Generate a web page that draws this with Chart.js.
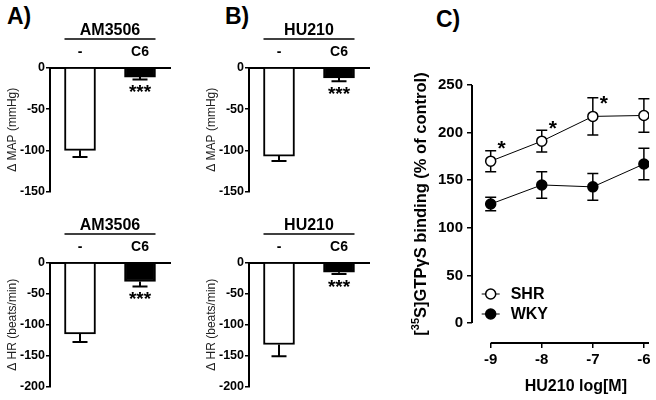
<!DOCTYPE html>
<html>
<head>
<meta charset="utf-8">
<script src="https://cdn.jsdelivr.net/npm/chart.js@4"></script>
<style>
body { margin: 0; background: #fff; width: 656px; height: 400px; overflow: hidden; position: relative; font-family: "Liberation Sans", Arial, sans-serif; }
.panel { position: absolute; }
.tag { position: absolute; font-weight: bold; font-size: 23px; line-height: 23px; color: #000; }
</style>
</head>
<body>
<div class="tag" style="left:7px;top:5px">A)</div>
<div class="tag" style="left:225px;top:5px">B)</div>
<div class="tag" style="left:436px;top:8px">C)</div>

<canvas class="panel" id="amMap" width="190" height="200" style="left:0;top:0"></canvas>
<canvas class="panel" id="amHr" width="190" height="200" style="left:0;top:195px"></canvas>
<canvas class="panel" id="huMap" width="190" height="200" style="left:199px;top:0"></canvas>
<canvas class="panel" id="huHr" width="190" height="200" style="left:199px;top:195px"></canvas>
<canvas class="panel" id="binding" width="256" height="400" style="left:400px;top:0"></canvas>

<script>
// 数据
const barGroups = ['-', 'C6']
const barSig = [false, true]

const amMap = [-100, -11]
const amMapErr = [8, 3]
const amHr = [-115, -30]
const amHrErr = [13, 8]
const huMap = [-107, -12]
const huMapErr = [6, 4]
const huHr = [-132, -15]
const huHrErr = [19, 3]

const mapTicks = [0, -50, -100, -150]
const hrTicks = [0, -50, -100, -150, -200]

const doses = [-9, -8, -7, -6]
const shr = [170, 191, 217, 218]
const shrErr = [11, 11.5, 19.5, 17.5]
const shrSig = [true, true, true, false]
const wky = [125, 145, 143, 167]
const wkyErr = [7, 14, 14, 16.5]
const bindTicks = [0, 50, 100, 150, 200, 250]

const FONT = '"Liberation Sans", Arial, sans-serif'
Chart.defaults.font.family = FONT
Chart.defaults.color = '#000'

// 误差线
const errorBars = {
    id: 'errorBars',
    beforeDatasetsDraw(chart) {
        const ctx = chart.ctx
        const ys = chart.scales.y
        chart.data.datasets.forEach((ds, di) => {
            if (!ds.errors) return
            const meta = chart.getDatasetMeta(di)
            meta.data.forEach((el, i) => {
                const v = ds.data[i]
                const val = typeof v === 'object' ? v.y : v
                const err = ds.errors[i]
                const cap = ds.capWidth / 2
                ctx.save()
                ctx.strokeStyle = '#000'
                ctx.lineWidth = ds.errWidth
                ctx.beginPath()
                let yEnds
                if (ds.oneSided) {
                    yEnds = [ys.getPixelForValue(val - err)]
                    ctx.moveTo(el.x, el.y)
                    ctx.lineTo(el.x, yEnds[0])
                } else {
                    yEnds = [ys.getPixelForValue(val - err), ys.getPixelForValue(val + err)]
                    ctx.moveTo(el.x, yEnds[0])
                    ctx.lineTo(el.x, yEnds[1])
                }
                yEnds.forEach(y => {
                    ctx.moveTo(el.x - cap, y)
                    ctx.lineTo(el.x + cap, y)
                })
                ctx.stroke()
                ctx.restore()
            })
        })
    }
}

// 柱状图装饰：组名、下划线、星号
const barDeco = {
    id: 'barDeco',
    afterDraw(chart, args, opts) {
        const ctx = chart.ctx
        const ys = chart.scales.y
        const top = chart.chartArea.top
        const meta = chart.getDatasetMeta(0)
        const b0 = meta.data[0], b1 = meta.data[1]
        const ds = chart.data.datasets[0]
        ctx.save()
        ctx.fillStyle = '#000'
        ctx.strokeStyle = '#000'
        ctx.font = 'bold 16px ' + FONT
        ctx.textAlign = 'center'
        ctx.textBaseline = 'middle'
        ctx.fillText(opts.group, (b0.x + b1.x) / 2, top - 37)
        ctx.lineWidth = 1.5
        ctx.beginPath()
        ctx.moveTo(b0.x - b0.width / 2, top - 29)
        ctx.lineTo(b1.x + b1.width / 2, top - 29)
        ctx.stroke()
        ctx.font = 'bold 19px ' + FONT
        ctx.textBaseline = 'top'
        ds.data.forEach((v, i) => {
            if (!barSig[i]) return
            const y = ys.getPixelForValue(v - ds.errors[i])
            ctx.fillText('***', meta.data[i].x, y + 4)
        })
        ctx.restore()
    }
}

function barPanel(id, group, values, errs, ticks, title) {
    new Chart(document.getElementById(id), {
        type: 'bar',
        data: {
            labels: barGroups,
            datasets: [{
                data: values,
                errors: errs,
                oneSided: true,
                capWidth: 15,
                errWidth: 2,
                backgroundColor: ['#fff', '#000'],
                borderColor: '#000',
                borderWidth: 2,
                barThickness: 31
            }]
        },
        options: {
            responsive: false,
            animation: false,
            devicePixelRatio: 1,
            layout: { padding: { top: 44, right: 20, bottom: 7, left: 0 } },
            plugins: {
                legend: { display: false },
                tooltip: { enabled: false },
                barDeco: { group: group }
            },
            scales: {
                x: {
                    position: 'top',
                    afterFit: s => { s.height = 24 },
                    grid: { display: false, drawTicks: false },
                    border: { color: '#000', width: 2 },
                    ticks: { font: { size: 14, weight: 'bold' }, color: '#000', padding: 7 }
                },
                y: {
                    min: ticks[ticks.length - 1],
                    max: 0,
                    afterBuildTicks: s => { s.ticks = ticks.map(v => ({ value: v })) },
                    afterFit: s => { s.width = 50 },
                    grid: { drawOnChartArea: false, tickLength: 4, color: '#000', lineWidth: 1.5 },
                    border: { color: '#000', width: 2 },
                    ticks: { font: { size: 12.5, weight: 'bold' }, color: '#000', padding: 1 },
                    title: { display: true, text: title, font: { size: 12 }, color: '#222', padding: { top: 5, bottom: 0 } }
                }
            }
        },
        plugins: [errorBars, barDeco]
    })
}

barPanel('amMap', 'AM3506', amMap, amMapErr, mapTicks, 'Δ MAP (mmHg)')
barPanel('amHr', 'AM3506', amHr, amHrErr, hrTicks, 'Δ HR (beats/min)')
barPanel('huMap', 'HU210', huMap, huMapErr, mapTicks, 'Δ MAP (mmHg)')
barPanel('huHr', 'HU210', huHr, huHrErr, hrTicks, 'Δ HR (beats/min)')

// 曲线图：坐标轴、标题、图例、星号
const bindDeco = {
    id: 'bindDeco',
    afterDraw(chart) {
        const ctx = chart.ctx
        const xs = chart.scales.x, ys = chart.scales.y
        const area = chart.chartArea
        ctx.save()
        ctx.strokeStyle = '#000'
        ctx.fillStyle = '#000'
        ctx.lineWidth = 2
        ctx.beginPath()
        ctx.moveTo(area.left, ys.getPixelForValue(bindTicks[0]))
        ctx.lineTo(area.left, ys.getPixelForValue(bindTicks[bindTicks.length - 1]))
        ctx.moveTo(xs.getPixelForValue(doses[0]), area.bottom)
        ctx.lineTo(area.right, area.bottom)
        ctx.stroke()

        // 星号
        ctx.font = 'bold 21px ' + FONT
        ctx.textAlign = 'center'
        ctx.textBaseline = 'middle'
        const shrMeta = chart.getDatasetMeta(0)
        shrMeta.data.forEach((p, i) => {
            if (shrSig[i]) ctx.fillText('*', p.x + 11, p.y - 12)
        })

        // x 轴标题
        ctx.font = 'bold 16px ' + FONT
        ctx.fillText('HU210 log[M]', (xs.getPixelForValue(doses[0]) + area.right) / 2 + 6, 387)

        // y 轴标题（带上标）
        const cy = (ys.getPixelForValue(bindTicks[0]) + ys.getPixelForValue(bindTicks[bindTicks.length - 1])) / 2
        ctx.translate(21, cy)
        ctx.rotate(-Math.PI / 2)
        const big = 'bold 16.5px ' + FONT, small = 'bold 11px ' + FONT
        const parts = [['[', big, 0], ['35', small, -5], ['S]GTPγS binding (% of control)', big, 0]]
        let total = 0
        parts.forEach(pt => { ctx.font = pt[1]; total += ctx.measureText(pt[0]).width })
        let x = -total / 2
        ctx.textAlign = 'left'
        ctx.textBaseline = 'middle'
        parts.forEach(pt => {
            ctx.font = pt[1]
            ctx.fillText(pt[0], x, pt[2])
            x += ctx.measureText(pt[0]).width
        })
        ctx.restore()

        // 图例
        ctx.save()
        const lx = xs.getPixelForValue(doses[0])
        chart.data.datasets.forEach((ds, i) => {
            const ly = area.bottom - 49 + i * 20
            ctx.strokeStyle = '#000'
            ctx.lineWidth = 1
            ctx.beginPath()
            ctx.moveTo(lx - 9, ly)
            ctx.lineTo(lx + 9, ly)
            ctx.stroke()
            ctx.beginPath()
            ctx.arc(lx, ly, 5, 0, Math.PI * 2)
            ctx.fillStyle = ds.pointBackgroundColor
            ctx.fill()
            ctx.lineWidth = 1.5
            ctx.stroke()
            ctx.fillStyle = '#000'
            ctx.font = 'bold 16px ' + FONT
            ctx.textAlign = 'left'
            ctx.textBaseline = 'middle'
            ctx.fillText(ds.label, lx + 20, ly + 1)
        })
        ctx.restore()
    }
}

new Chart(document.getElementById('binding'), {
    type: 'line',
    data: {
        datasets: [{
            label: 'SHR',
            data: doses.map((d, i) => ({ x: d, y: shr[i] })),
            errors: shrErr,
            capWidth: 11,
            errWidth: 1.5,
            borderColor: '#000',
            borderWidth: 1,
            pointRadius: 5,
            pointBackgroundColor: '#fff',
            pointBorderColor: '#000',
            pointBorderWidth: 1.5
        }, {
            label: 'WKY',
            data: doses.map((d, i) => ({ x: d, y: wky[i] })),
            errors: wkyErr,
            capWidth: 11,
            errWidth: 1.5,
            borderColor: '#000',
            borderWidth: 1,
            pointRadius: 5,
            pointBackgroundColor: '#000',
            pointBorderColor: '#000',
            pointBorderWidth: 1.5
        }]
    },
    options: {
        responsive: false,
        animation: false,
        devicePixelRatio: 1,
        layout: { padding: { top: 85, right: 7, bottom: 0, left: 0 } },
        plugins: { legend: { display: false }, tooltip: { enabled: false } },
        scales: {
            x: {
                type: 'linear',
                min: -9.366,
                max: -5.9,
                afterBuildTicks: s => { s.ticks = doses.map(v => ({ value: v })) },
                afterFit: s => { s.height = 57 },
                border: { display: false },
                grid: { drawOnChartArea: false, tickLength: 5, color: '#000', lineWidth: 1.5 },
                ticks: { font: { size: 15, weight: 'bold' }, color: '#000', padding: 3 }
            },
            y: {
                min: -21,
                max: 250,
                afterBuildTicks: s => { s.ticks = bindTicks.map(v => ({ value: v })) },
                afterFit: s => { s.width = 72 },
                border: { display: false },
                grid: { drawOnChartArea: false, tickLength: 5, color: '#000', lineWidth: 1.5 },
                ticks: { font: { size: 15, weight: 'bold' }, color: '#000', padding: 4 }
            }
        }
    },
    plugins: [errorBars, bindDeco]
})
</script>
</body>
</html>
